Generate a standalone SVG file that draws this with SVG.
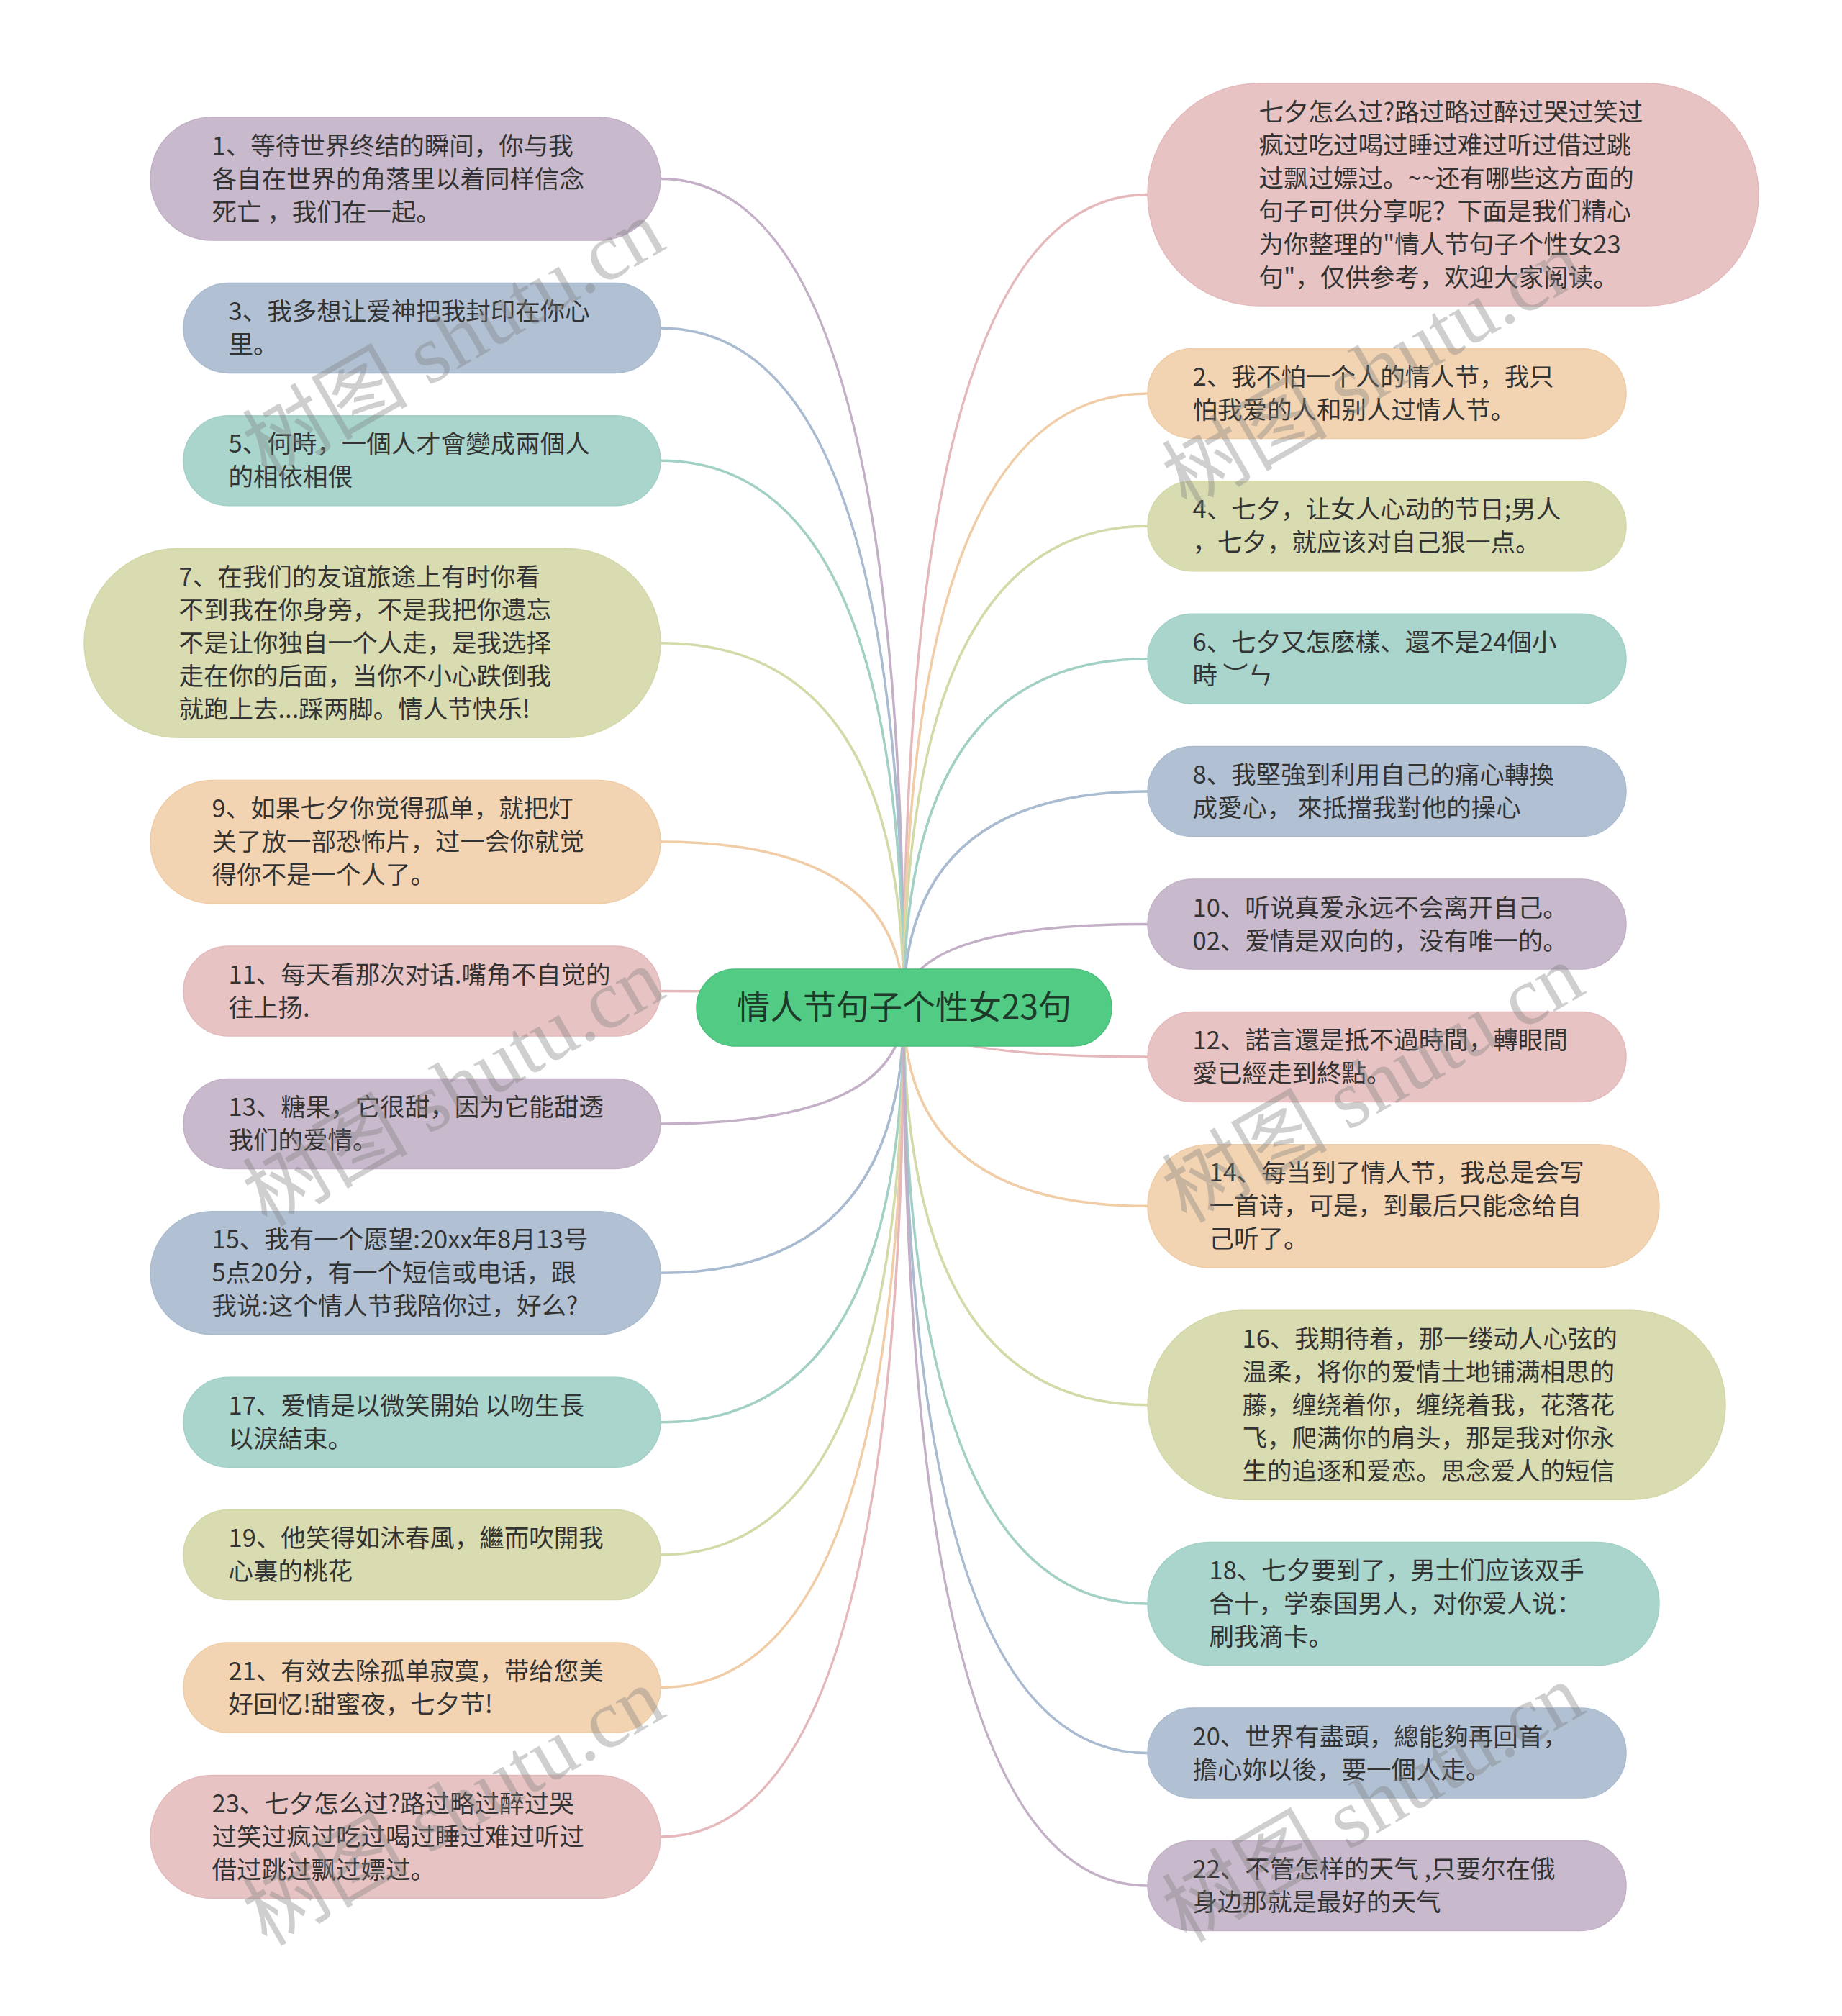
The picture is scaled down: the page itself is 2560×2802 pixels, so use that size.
<svg xmlns="http://www.w3.org/2000/svg" width="2560" height="2802" viewBox="0 0 2560 2802">
<style>
.bg{fill:#ffffff}
.t{font-family:"Noto Sans CJK SC","Noto Sans",sans-serif;font-size:34.5px;fill:#333333}
.ct{font-family:"Noto Sans CJK SC","Noto Sans",sans-serif;font-size:46px;fill:#1e3b2a}
.c{fill:none;stroke-width:3.5}
.pu{fill:#c9b9cc;stroke:#c2b0c6;stroke-width:1.5}
.bl{fill:#b1c1d3;stroke:#aabbcf;stroke-width:1.5}
.te{fill:#a9d5cc;stroke:#a2d0c5;stroke-width:1.5}
.ol{fill:#d9dcb1;stroke:#d3d7a8;stroke-width:1.5}
.pe{fill:#f3d4b2;stroke:#eecca6;stroke-width:1.5}
.pk{fill:#e8c3c4;stroke:#e3babc;stroke-width:1.5}
.lpu{stroke:#c3b0c7}
.lbl{stroke:#a9bbd0}
.lte{stroke:#a2d0c5}
.lol{stroke:#d4d9a8}
.lpe{stroke:#f0cda6}
.lpk{stroke:#e5b9bc}
.wm{font-family:"Liberation Serif","Noto Sans CJK SC",serif;font-size:115px;fill:#808080;fill-opacity:0.38}
</style>
<rect class="bg" x="0" y="0" width="2560" height="2802"/>
<g id="connectors">
<path class="c lpu" d="M918,248.5 Q1256,248.5 1256,1400"/>
<path class="c lbl" d="M918,455.9 Q1256,455.9 1256,1400"/>
<path class="c lte" d="M918,640.3 Q1256,640.3 1256,1400"/>
<path class="c lol" d="M918,893.7 Q1256,893.7 1256,1400"/>
<path class="c lpe" d="M918,1170.1 Q1256,1170.1 1256,1400"/>
<path class="c lpk" d="M918,1377.5 Q1256,1377.5 1256,1400"/>
<path class="c lpu" d="M918,1561.9 Q1256,1561.9 1256,1400"/>
<path class="c lbl" d="M918,1769.3 Q1256,1769.3 1256,1400"/>
<path class="c lte" d="M918,1976.7 Q1256,1976.7 1256,1400"/>
<path class="c lol" d="M918,2161.1 Q1256,2161.1 1256,1400"/>
<path class="c lpe" d="M918,2345.5 Q1256,2345.5 1256,1400"/>
<path class="c lpk" d="M918,2552.9 Q1256,2552.9 1256,1400"/>
<path class="c lpk" d="M1595,270.5 Q1256,270.5 1256,1400"/>
<path class="c lpe" d="M1595,546.9 Q1256,546.9 1256,1400"/>
<path class="c lol" d="M1595,731.3 Q1256,731.3 1256,1400"/>
<path class="c lte" d="M1595,915.7 Q1256,915.7 1256,1400"/>
<path class="c lbl" d="M1595,1100.1 Q1256,1100.1 1256,1400"/>
<path class="c lpu" d="M1595,1284.5 Q1256,1284.5 1256,1400"/>
<path class="c lpk" d="M1595,1468.9 Q1256,1468.9 1256,1400"/>
<path class="c lpe" d="M1595,1676.3 Q1256,1676.3 1256,1400"/>
<path class="c lol" d="M1595,1952.7 Q1256,1952.7 1256,1400"/>
<path class="c lte" d="M1595,2229.1 Q1256,2229.1 1256,1400"/>
<path class="c lbl" d="M1595,2436.5 Q1256,2436.5 1256,1400"/>
<path class="c lpu" d="M1595,2620.9 Q1256,2620.9 1256,1400"/>
</g>
<g id="center">
<rect x="968" y="1347" width="577" height="107" rx="53.5" fill="#52cc85" stroke="#4bbf7b" stroke-width="1.5"/>
<text class="ct" x="1256.5" y="1416" text-anchor="middle">情人节句子个性女23句</text>
</g>
<g id="n1"><rect class="pu" x="209" y="163" width="709" height="171" rx="85.5"/>
<text class="t"><tspan x="294.5" y="214.5">1、等待世界终结的瞬间，你与我</tspan><tspan x="294.5" y="260.5">各自在世界的角落里以着同样信念</tspan><tspan x="294.5" y="306.5">死亡 ，我们在一起。</tspan></text></g>
<g id="n3"><rect class="bl" x="255" y="393.4" width="663" height="125" rx="62.5"/>
<text class="t"><tspan x="317.5" y="444.9">3、我多想让爱神把我封印在你心</tspan><tspan x="317.5" y="490.9">里。</tspan></text></g>
<g id="n5"><rect class="te" x="255" y="577.8" width="663" height="125" rx="62.5"/>
<text class="t"><tspan x="317.5" y="629.3">5、何時，一個人才會變成兩個人</tspan><tspan x="317.5" y="675.3">的相依相偎</tspan></text></g>
<g id="n7"><rect class="ol" x="117" y="762.2" width="801" height="263" rx="131.5"/>
<text class="t"><tspan x="248.5" y="813.7">7、在我们的友谊旅途上有时你看</tspan><tspan x="248.5" y="859.7">不到我在你身旁，不是我把你遗忘</tspan><tspan x="248.5" y="905.7">不是让你独自一个人走，是我选择</tspan><tspan x="248.5" y="951.7">走在你的后面，当你不小心跌倒我</tspan><tspan x="248.5" y="997.7">就跑上去...踩两脚。情人节快乐!</tspan></text></g>
<g id="n9"><rect class="pe" x="209" y="1084.6" width="709" height="171" rx="85.5"/>
<text class="t"><tspan x="294.5" y="1136.1">9、如果七夕你觉得孤单，就把灯</tspan><tspan x="294.5" y="1182.1">关了放一部恐怖片，过一会你就觉</tspan><tspan x="294.5" y="1228.1">得你不是一个人了。</tspan></text></g>
<g id="n11"><rect class="pk" x="255" y="1315" width="663" height="125" rx="62.5"/>
<text class="t"><tspan x="317.5" y="1366.5">11、每天看那次对话.嘴角不自觉的</tspan><tspan x="317.5" y="1412.5">往上扬.</tspan></text></g>
<g id="n13"><rect class="pu" x="255" y="1499.4" width="663" height="125" rx="62.5"/>
<text class="t"><tspan x="317.5" y="1550.9">13、糖果，它很甜，因为它能甜透</tspan><tspan x="317.5" y="1596.9">我们的爱情。</tspan></text></g>
<g id="n15"><rect class="bl" x="209" y="1683.8" width="709" height="171" rx="85.5"/>
<text class="t"><tspan x="294.5" y="1735.3">15、我有一个愿望:20xx年8月13号</tspan><tspan x="294.5" y="1781.3">5点20分，有一个短信或电话，跟</tspan><tspan x="294.5" y="1827.3">我说:这个情人节我陪你过，好么?</tspan></text></g>
<g id="n17"><rect class="te" x="255" y="1914.2" width="663" height="125" rx="62.5"/>
<text class="t"><tspan x="317.5" y="1965.7">17、爱情是以微笑開始 以吻生長</tspan><tspan x="317.5" y="2011.7">以淚結束。</tspan></text></g>
<g id="n19"><rect class="ol" x="255" y="2098.6" width="663" height="125" rx="62.5"/>
<text class="t"><tspan x="317.5" y="2150.1">19、他笑得如沐春風，繼而吹開我</tspan><tspan x="317.5" y="2196.1">心裏的桃花</tspan></text></g>
<g id="n21"><rect class="pe" x="255" y="2283" width="663" height="125" rx="62.5"/>
<text class="t"><tspan x="317.5" y="2334.5">21、有效去除孤单寂寞，带给您美</tspan><tspan x="317.5" y="2380.5">好回忆!甜蜜夜，七夕节!</tspan></text></g>
<g id="n23"><rect class="pk" x="209" y="2467.4" width="709" height="171" rx="85.5"/>
<text class="t"><tspan x="294.5" y="2518.9">23、七夕怎么过?路过略过醉过哭</tspan><tspan x="294.5" y="2564.9">过笑过疯过吃过喝过睡过难过听过</tspan><tspan x="294.5" y="2610.9">借过跳过飘过嫖过。</tspan></text></g>
<g id="nintro"><rect class="pk" x="1595" y="116" width="849" height="309" rx="154.5"/>
<text class="t"><tspan x="1749.5" y="167.5">七夕怎么过?路过略过醉过哭过笑过</tspan><tspan x="1749.5" y="213.5">疯过吃过喝过睡过难过听过借过跳</tspan><tspan x="1749.5" y="259.5">过飘过嫖过。~~还有哪些这方面的</tspan><tspan x="1749.5" y="305.5">句子可供分享呢？下面是我们精心</tspan><tspan x="1749.5" y="351.5">为你整理的"情人节句子个性女23</tspan><tspan x="1749.5" y="397.5">句"，仅供参考，欢迎大家阅读。</tspan></text></g>
<g id="n2"><rect class="pe" x="1595" y="484.4" width="665" height="125" rx="62.5"/>
<text class="t"><tspan x="1657.5" y="535.9">2、我不怕一个人的情人节，我只</tspan><tspan x="1657.5" y="581.9">怕我爱的人和别人过情人节。</tspan></text></g>
<g id="n4"><rect class="ol" x="1595" y="668.8" width="665" height="125" rx="62.5"/>
<text class="t"><tspan x="1657.5" y="720.3">4、七夕，让女人心动的节日;男人</tspan><tspan x="1657.5" y="766.3">，七夕，就应该对自己狠一点。</tspan></text></g>
<g id="n6"><rect class="te" x="1595" y="853.2" width="665" height="125" rx="62.5"/>
<text class="t"><tspan x="1657.5" y="904.7">6、七夕又怎麽樣、還不是24個小</tspan><tspan x="1657.5" y="950.7">時 ︶ㄣ</tspan></text></g>
<g id="n8"><rect class="bl" x="1595" y="1037.6" width="665" height="125" rx="62.5"/>
<text class="t"><tspan x="1657.5" y="1089.1">8、我堅強到利用自己的痛心轉換</tspan><tspan x="1657.5" y="1135.1">成愛心， 來抵擋我對他的操心</tspan></text></g>
<g id="n10"><rect class="pu" x="1595" y="1222" width="665" height="125" rx="62.5"/>
<text class="t"><tspan x="1657.5" y="1273.5">10、听说真爱永远不会离开自己。</tspan><tspan x="1657.5" y="1319.5">02、爱情是双向的，没有唯一的。</tspan></text></g>
<g id="n12"><rect class="pk" x="1595" y="1406.4" width="665" height="125" rx="62.5"/>
<text class="t"><tspan x="1657.5" y="1457.9">12、諾言還是抵不過時間，轉眼間</tspan><tspan x="1657.5" y="1503.9">愛已經走到終點。</tspan></text></g>
<g id="n14"><rect class="pe" x="1595" y="1590.8" width="711" height="171" rx="85.5"/>
<text class="t"><tspan x="1680.5" y="1642.3">14、每当到了情人节，我总是会写</tspan><tspan x="1680.5" y="1688.3">一首诗，可是，到最后只能念给自</tspan><tspan x="1680.5" y="1734.3">己听了。</tspan></text></g>
<g id="n16"><rect class="ol" x="1595" y="1821.2" width="803" height="263" rx="131.5"/>
<text class="t"><tspan x="1726.5" y="1872.7">16、我期待着，那一缕动人心弦的</tspan><tspan x="1726.5" y="1918.7">温柔，将你的爱情土地铺满相思的</tspan><tspan x="1726.5" y="1964.7">藤，缠绕着你，缠绕着我，花落花</tspan><tspan x="1726.5" y="2010.7">飞，爬满你的肩头，那是我对你永</tspan><tspan x="1726.5" y="2056.7">生的追逐和爱恋。思念爱人的短信</tspan></text></g>
<g id="n18"><rect class="te" x="1595" y="2143.6" width="711" height="171" rx="85.5"/>
<text class="t"><tspan x="1680.5" y="2195.1">18、七夕要到了，男士们应该双手</tspan><tspan x="1680.5" y="2241.1">合十，学泰国男人，对你爱人说：</tspan><tspan x="1680.5" y="2287.1">刷我滴卡。</tspan></text></g>
<g id="n20"><rect class="bl" x="1595" y="2374" width="665" height="125" rx="62.5"/>
<text class="t"><tspan x="1657.5" y="2425.5">20、世界有盡頭，總能夠再回首，</tspan><tspan x="1657.5" y="2471.5">擔心妳以後，要一個人走。</tspan></text></g>
<g id="n22"><rect class="pu" x="1595" y="2558.4" width="665" height="125" rx="62.5"/>
<text class="t"><tspan x="1657.5" y="2609.9">22、不管怎样的天气 ,只要尔在俄</tspan><tspan x="1657.5" y="2655.9">身边那就是最好的天气</tspan></text></g>
<g id="watermarks">
<text class="wm" x="0" y="0" text-anchor="middle" transform="translate(650,505) rotate(-30)">树图 shutu.cn</text>
<text class="wm" x="0" y="0" text-anchor="middle" transform="translate(650,1545) rotate(-30)">树图 shutu.cn</text>
<text class="wm" x="0" y="0" text-anchor="middle" transform="translate(650,2545) rotate(-30)">树图 shutu.cn</text>
<text class="wm" x="0" y="0" text-anchor="middle" transform="translate(1928,548) rotate(-30)">树图 shutu.cn</text>
<text class="wm" x="0" y="0" text-anchor="middle" transform="translate(1928,1540) rotate(-30)">树图 shutu.cn</text>
<text class="wm" x="0" y="0" text-anchor="middle" transform="translate(1928,2540) rotate(-30)">树图 shutu.cn</text>
</g>
</svg>
